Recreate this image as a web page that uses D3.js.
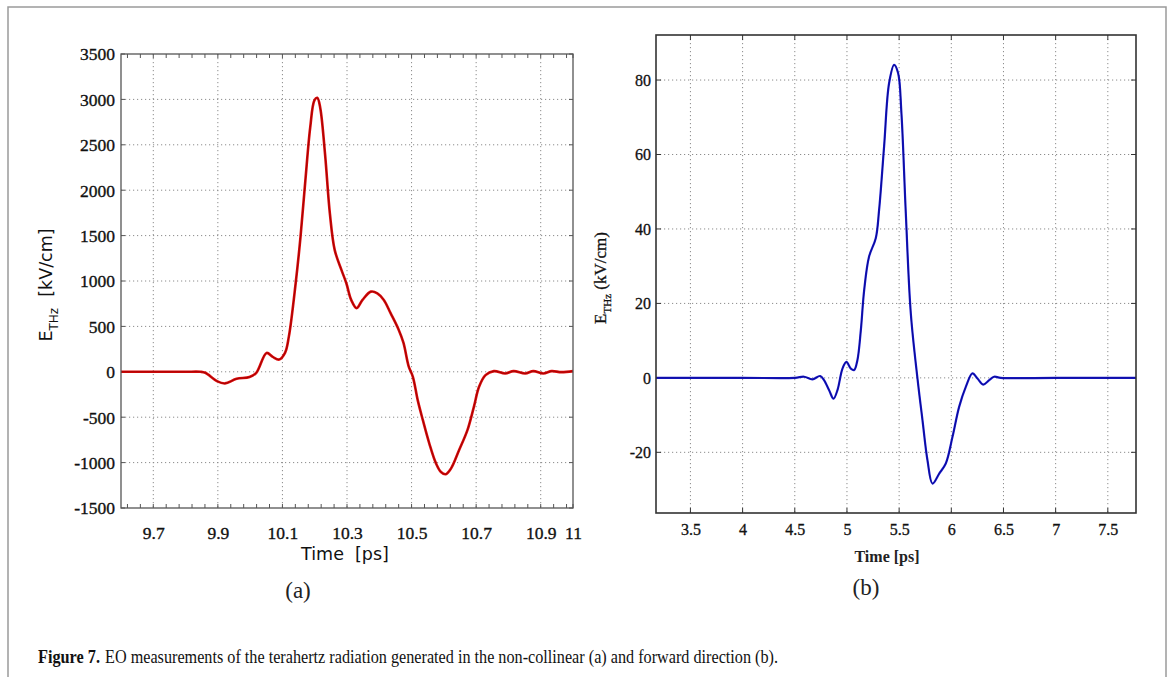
<!DOCTYPE html>
<html>
<head>
<meta charset="utf-8">
<script src="https://cdn.jsdelivr.net/npm/d3@7"></script>
<style>
  html, body { margin: 0; padding: 0; background: #fff; }
  svg { display: block; }
</style>
</head>
<body>
<svg id="fig" width="1169" height="677"></svg>
<script>
// ---------- Panel (a): non-collinear ----------
const timeA = [9.60, 9.70, 9.80, 9.846, 9.861, 9.897, 9.922, 9.958, 9.998, 10.019, 10.051, 10.07, 10.09, 10.108, 10.12, 10.141, 10.156, 10.171, 10.186, 10.199, 10.208, 10.217, 10.232, 10.247, 10.262, 10.283, 10.298, 10.313, 10.33, 10.348, 10.374, 10.394, 10.414, 10.435, 10.46, 10.475, 10.491, 10.504, 10.519, 10.535, 10.555, 10.576, 10.591, 10.606, 10.622, 10.647, 10.673, 10.693, 10.709, 10.729, 10.755, 10.79, 10.816, 10.852, 10.877, 10.908, 10.934, 10.964, 11.0];
const fieldA = [0, 0, 0, 0, -11, -102, -128, -77, -58, -11, 208, 164, 135, 208, 390, 975, 1486, 2106, 2690, 2989, 3018, 2909, 2398, 1741, 1340, 1120, 975, 792, 701, 792, 883, 865, 792, 646, 464, 318, 60, -55, -312, -533, -790, -1011, -1103, -1128, -1066, -864, -643, -386, -165, -37, 7, -18, 7, -18, 7, -18, 7, -4, 7];
const xTicksA = [9.7, 9.9, 10.1, 10.3, 10.5, 10.7, 10.9, 11];
const xTickLabelsA = ["9.7", "9.9", "10.1", "10.3", "10.5", "10.7", "10.9", "11"];
const yTicksA = [-1500, -1000, -500, 0, 500, 1000, 1500, 2000, 2500, 3000, 3500];

// ---------- Panel (b): forward direction ----------
const timeB = [3.17, 4.0, 4.5, 4.589, 4.669, 4.743, 4.78, 4.829, 4.871, 4.909, 4.957, 4.995, 5.037, 5.069, 5.1, 5.133, 5.165, 5.212, 5.276, 5.308, 5.356, 5.404, 5.452, 5.49, 5.522, 5.564, 5.612, 5.676, 5.724, 5.772, 5.82, 5.884, 5.947, 6.011, 6.075, 6.139, 6.203, 6.251, 6.305, 6.363, 6.41, 6.474, 7.0, 7.77];
const fieldB = [0, 0, 0, 0.3, -0.4, 0.5, -0.6, -3.3, -5.6, -3.3, 2.5, 4.3, 2.5, 2.1, 4.75, 12.8, 23.6, 32.6, 37.5, 45.1, 62.2, 79.2, 84.1, 81.9, 71.1, 44.2, 17.3, -0.2, -11.4, -22.2, -28.4, -25.7, -23, -15.9, -7.8, -2.4, 1.2, -0.2, -1.8, -0.6, 0.3, 0, 0, 0];
const xTicksB = [3.5, 4, 4.5, 5, 5.5, 6, 6.5, 7, 7.5];
const xTickLabelsB = ["3.5", "4", "4.5", "5", "5.5", "6", "6.5", "7", "7.5"];
const yTicksB = [-20, 0, 20, 40, 60, 80];

const SERIF = "'Liberation Serif', 'Times New Roman', serif";
const svg = d3.select("#fig");

// outer frame
svg.append("rect").attr("x", 8).attr("y", 7).attr("width", 1158).attr("height", 720)
  .attr("fill", "none").attr("stroke", "#9a9a9a").attr("stroke-width", 1.5);

function drawPanel(cfg) {
  const g = svg.append("g");
  const x = d3.scaleLinear().domain(cfg.xDomain).range([cfg.left, cfg.right]);
  const y = d3.scaleLinear().domain(cfg.yDomain).range([cfg.bottom, cfg.top]);

  // grid
  g.append("g").selectAll("line").data(cfg.xTicks.filter(t => x(t) > cfg.left + 2 && x(t) < cfg.right - 2)).join("line")
    .attr("x1", d => x(d)).attr("x2", d => x(d)).attr("y1", cfg.top).attr("y2", cfg.bottom)
    .attr("stroke", "#8c8c8c").attr("stroke-width", 1).attr("stroke-dasharray", "1.2,2.8");
  g.append("g").selectAll("line").data(cfg.yTicks.filter(t => y(t) > cfg.top + 2 && y(t) < cfg.bottom - 2)).join("line")
    .attr("x1", cfg.left).attr("x2", cfg.right).attr("y1", d => y(d)).attr("y2", d => y(d))
    .attr("stroke", "#8c8c8c").attr("stroke-width", 1).attr("stroke-dasharray", "1.2,2.8");

  // axes (labels only; tick marks drawn inward below)
  const tl = cfg.tickLen;
  const axB = d3.axisBottom(x).tickValues(cfg.xTicks).tickFormat((d, i) => cfg.xLabels[i]).tickSize(0).tickPadding(0);
  const ax = g.append("g").attr("transform", `translate(0,${cfg.bottom})`).call(axB)
    .attr("font-family", null).attr("font-size", null);
  ax.select(".domain").remove();
  ax.selectAll("text").attr("y", cfg.xLabelDy).attr("dy", 0)
    .style("font-family", SERIF).style("font-size", cfg.tickFont + "px").attr("fill", "#111")
    .attr("stroke", "#111").attr("stroke-width", cfg.tickStroke);
  const axL = d3.axisLeft(y).tickValues(cfg.yTicks).tickSize(0).tickPadding(0)
    .tickFormat(d => String(d).replace("\u2212", "-"));
  const ay = g.append("g").attr("transform", `translate(${cfg.yLabelX},0)`).call(axL)
    .attr("font-family", null).attr("font-size", null);
  ay.select(".domain").remove();
  ay.selectAll("text").attr("x", 0).attr("dy", "0.34em")
    .style("font-family", SERIF).style("font-size", cfg.tickFont + "px").attr("fill", "#111")
    .attr("stroke", "#111").attr("stroke-width", cfg.tickStroke);

  // tick marks
  const allX = cfg.minorX ? cfg.minorX.concat(cfg.xTicks) : cfg.xTicks;
  const tk = g.append("g").attr("stroke", cfg.boxColor).attr("stroke-width", 1);
  tk.selectAll(".xb").data(allX).join("line")
    .attr("x1", d => x(d)).attr("x2", d => x(d)).attr("y1", cfg.bottom).attr("y2", cfg.bottom - tl);
  tk.selectAll(".xt").data(allX).join("line")
    .attr("x1", d => x(d)).attr("x2", d => x(d)).attr("y1", cfg.top).attr("y2", cfg.top + tl);
  tk.selectAll(".yl").data(cfg.yTicks).join("line")
    .attr("x1", cfg.left).attr("x2", cfg.left + tl).attr("y1", d => y(d)).attr("y2", d => y(d));
  tk.selectAll(".yr").data(cfg.yTicks).join("line")
    .attr("x1", cfg.right).attr("x2", cfg.right - tl).attr("y1", d => y(d)).attr("y2", d => y(d));

  // curve
  const line = d3.line().x(d => x(d[0])).y(d => y(d[1])).curve(d3.curveCatmullRom.alpha(0.5));
  const pts = d3.zip(cfg.t, cfg.v);
  g.append("path").datum(pts).attr("d", line).attr("fill", "none")
    .attr("stroke", cfg.color).attr("stroke-width", cfg.lw).attr("stroke-linejoin", "round");
  g.append("path").datum(pts).attr("d", line).attr("fill", "none")
    .attr("stroke", cfg.core).attr("stroke-width", 0.9).attr("stroke-linejoin", "round").attr("opacity", 0.7);

  // box
  g.append("rect").attr("x", cfg.left).attr("y", cfg.top).attr("width", cfg.right - cfg.left).attr("height", cfg.bottom - cfg.top)
    .attr("fill", "none").attr("stroke", cfg.boxColor).attr("stroke-width", cfg.boxWidth);
  return {x, y};
}

// Panel (a)
const minorA = d3.range(-2, 33).map(k => +(9.7 + 0.04 * k).toFixed(2)).filter(v => v > 9.6 && v < 11 && !xTicksA.some(t => Math.abs(t - v) < 1e-6));
drawPanel({
  xDomain: [9.6, 11], yDomain: [-1500, 3500],
  left: 121, right: 573, top: 54, bottom: 508,
  xTicks: xTicksA, xLabels: xTickLabelsA, yTicks: yTicksA, minorX: minorA,
  tickLen: 4, tickFont: 17.5, tickStroke: 0.35, xLabelDy: 31, yLabelX: 115,
  t: timeA, v: fieldA, color: "#dd0a0a", core: "#7a0000", lw: 2.6,
  boxColor: "#555", boxWidth: 1.3
});

// Panel (b)
drawPanel({
  xDomain: [3.17, 7.77], yDomain: [-36.3, 92.1],
  left: 656, right: 1136, top: 35, bottom: 513,
  xTicks: xTicksB, xLabels: xTickLabelsB, yTicks: yTicksB, minorX: null,
  tickLen: 5, tickFont: 16, tickStroke: 0.3, xLabelDy: 22, yLabelX: 651,
  t: timeB, v: fieldB, color: "#1a1ad0", core: "#00006a", lw: 2.2,
  boxColor: "#333", boxWidth: 1.6
});

// Axis titles - panel (a)
svg.append("text").attr("x", 345).attr("y", 560).attr("text-anchor", "middle")
  .attr("font-family", "'DejaVu Sans', sans-serif").attr("font-size", 17.5).attr("fill", "#111")
  .text("Time  [ps]").style("white-space", "pre");
const ylA = svg.append("text").attr("transform", "translate(52,285) rotate(-90)").attr("text-anchor", "middle")
  .attr("font-family", "'DejaVu Sans', sans-serif").attr("font-size", 17.5).attr("fill", "#111").style("white-space", "pre");
ylA.append("tspan").text("E");
ylA.append("tspan").attr("dy", 6).attr("font-size", 12).text("THz");
ylA.append("tspan").attr("dy", -6).text("  [kV/cm]");

// Axis titles - panel (b)
svg.append("text").attr("x", 887).attr("y", 562).attr("text-anchor", "middle")
  .style("font-family", SERIF).attr("font-size", 16).attr("font-weight", "bold").attr("fill", "#222")
  .text("Time [ps]");
const ylB = svg.append("text").attr("transform", "translate(606,278) rotate(-90)").attr("text-anchor", "middle")
  .style("font-family", SERIF).attr("font-size", 17).attr("fill", "#111").attr("stroke", "#111").attr("stroke-width", 0.3)
  .style("white-space", "pre");
ylB.append("tspan").text("E");
ylB.append("tspan").attr("dy", 5).attr("font-size", 11).text("THz");
ylB.append("tspan").attr("dy", -5).text(" (kV/cm)");

// Panel letters
svg.append("text").attr("x", 298).attr("y", 598).attr("text-anchor", "middle")
  .style("font-family", SERIF).attr("font-size", 23).attr("fill", "#222").text("(a)");
svg.append("text").attr("x", 866).attr("y", 595).attr("text-anchor", "middle")
  .style("font-family", SERIF).attr("font-size", 23).attr("fill", "#222").text("(b)");

// Caption (two separate texts so they never overlap)
svg.append("text").attr("x", 38).attr("y", 663)
  .style("font-family", SERIF).attr("font-size", 18.5).attr("font-weight", "bold").attr("fill", "#111")
  .attr("textLength", 62).attr("lengthAdjust", "spacingAndGlyphs").text("Figure 7.");
svg.append("text").attr("x", 105).attr("y", 663)
  .style("font-family", SERIF).attr("font-size", 18.5).attr("fill", "#111")
  .attr("textLength", 673).attr("lengthAdjust", "spacingAndGlyphs")
  .text("EO measurements of the terahertz radiation generated in the non-collinear (a) and forward direction (b).");
</script>
</body>
</html>
